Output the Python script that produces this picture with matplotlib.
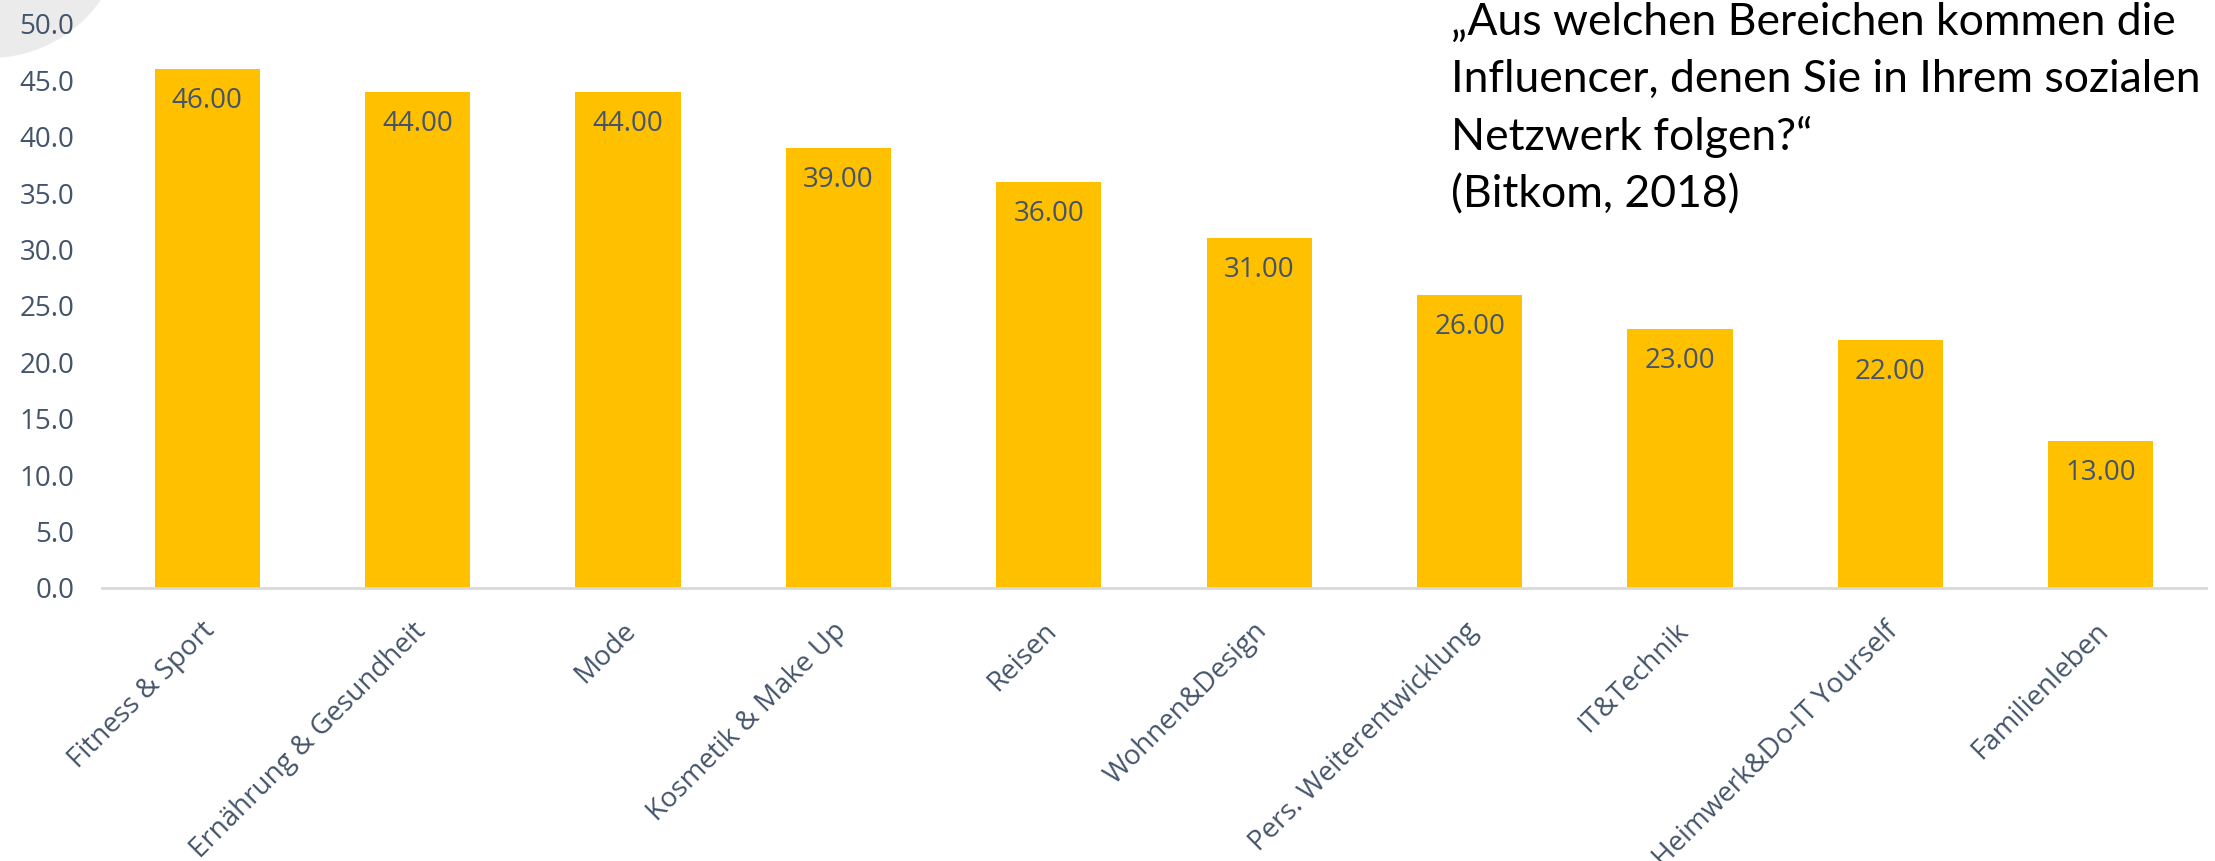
import matplotlib
matplotlib.use("Agg")
import matplotlib.pyplot as plt
from matplotlib.patches import Ellipse
from matplotlib.transforms import ScaledTranslation

categories = ["Fitness & Sport", "Ernährung & Gesundheit", "Mode", "Kosmetik & Make Up",
              "Reisen", "Wohnen&Design", "Pers. Weiterentwicklung", "IT&Technik",
              "Heimwerk&Do-IT Yourself", "Familienleben"]
values = [46, 44, 44, 39, 36, 31, 26, 23, 22, 13]
yticks = [0, 5, 10, 15, 20, 25, 30, 35, 40, 45, 50]
title_text = "„Aus welchen Bereichen kommen die\nInfluencer, denen Sie in Ihrem sozialen\nNetzwerk folgen?“\n(Bitkom, 2018)"

W, H, DPI = 2215, 861, 100
fig = plt.figure(figsize=(W / DPI, H / DPI), dpi=DPI)
fig.patch.set_facecolor("white")

# decorative grey circle top-left (figure pixel coords)
circ = Ellipse((-10 / W, 1 + 77 / H), 270 / W, 270 / H, transform=fig.transFigure,
               facecolor="#EBEBEB", edgecolor="none", zorder=0)
fig.add_artist(circ)

ax = fig.add_axes([102 / W, 1 - 588 / H, (2206 - 102) / W, (588 - 24) / H])
ax.set_facecolor("none")
ax.set_zorder(1)

text_col = "#44546A"
font = "Open Sans"

x = range(len(categories))
ax.bar(x, values, width=0.5, color="#FFC000", zorder=2)

for xi, v in zip(x, values):
    ax.annotate(f"{v:.2f}", (xi, v), xytext=(0, -23), textcoords="offset points",
                ha="center", va="center", fontsize=20, color=text_col, family=font)

ax.set_xlim(-0.5, len(categories) - 0.5)
ax.set_ylim(0, 50)
ax.set_yticks(yticks)
ax.set_yticklabels([f"{t:.1f}" for t in yticks], fontsize=20, color=text_col, family=font)
ax.set_xticks(list(x))
ax.set_xticklabels(categories, rotation=45, ha="right", va="center",
                   rotation_mode="anchor", fontsize=20, color=text_col, family=font)
ax.tick_params(axis="x", length=0, pad=28)
ax.tick_params(axis="y", length=0, pad=20)
shift = ScaledTranslation(4 / DPI, 0, fig.dpi_scale_trans)
for lab in ax.get_xticklabels():
    lab.set_transform(lab.get_transform() + shift)

for s in ["top", "right", "left"]:
    ax.spines[s].set_visible(False)
ax.spines["bottom"].set_color("#D9D9D9")
ax.spines["bottom"].set_linewidth(2)

fig.text(1451 / W, 1 - 2 / H, title_text, ha="left", va="top", fontsize=32,
         family="Lato", color="black", linespacing=1.48)

fig.savefig("out.png", dpi=DPI)
